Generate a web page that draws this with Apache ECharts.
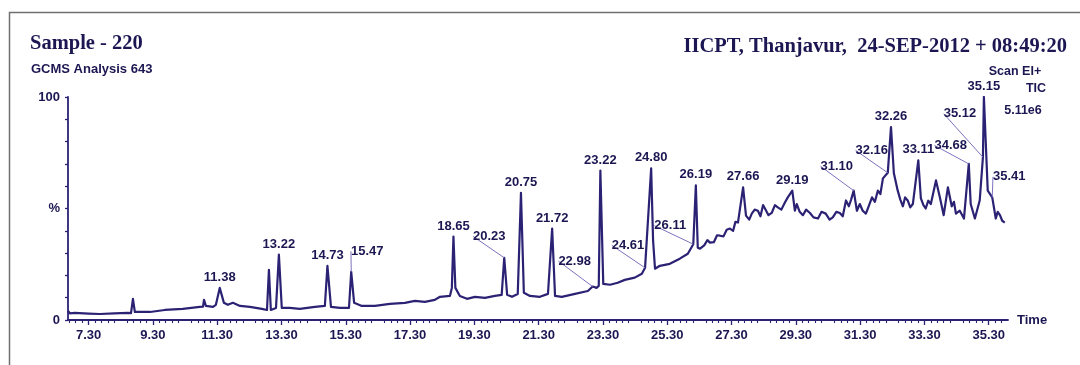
<!DOCTYPE html>
<html>
<head>
<meta charset="utf-8">
<script src="https://cdn.jsdelivr.net/npm/echarts@6/dist/echarts.min.js"></script>
<style>
  html, body { margin: 0; padding: 0; background: #ffffff; }
  #chart { width: 1080px; height: 365px; }
</style>
</head>
<body>
<div id="chart"></div>
<script>
// Total ion chromatogram: retention time (min) and relative intensity (%)
const traceTime = [
  6.66, 6.72, 6.87, 7.30, 7.65, 8.10, 8.52, 8.62, 8.68, 8.74,
  9.21, 9.67, 10.23, 10.76, 10.86, 10.89, 10.95, 11.17, 11.26, 11.38,
  11.51, 11.63, 11.79, 12.01, 12.32, 12.69, 12.85, 12.91, 12.97, 13.13,
  13.22, 13.31, 13.56, 13.87, 14.34, 14.65, 14.73, 14.84, 15.12, 15.40,
  15.47, 15.56, 15.80, 16.21, 16.67, 17.14, 17.45, 17.76, 18.07, 18.23,
  18.54, 18.60, 18.65, 18.71, 18.85, 19.07, 19.32, 19.63, 19.94, 20.15,
  20.23, 20.32, 20.47, 20.65, 20.75, 20.84, 21.03, 21.34, 21.59, 21.72,
  21.81, 22.02, 22.43, 22.83, 22.98, 23.10, 23.17, 23.22, 23.31, 23.52,
  23.76, 23.98, 24.29, 24.51, 24.61, 24.80, 24.86, 24.92, 25.07, 25.38,
  25.69, 25.94, 26.11, 26.19, 26.25, 26.32, 26.45, 26.55, 26.63, 26.75,
  26.85, 26.94, 27.05, 27.15, 27.25, 27.35, 27.42, 27.50, 27.66, 27.75,
  27.85, 27.93, 28.02, 28.12, 28.20, 28.28, 28.34, 28.45, 28.55, 28.65,
  28.74, 28.85, 28.96, 29.05, 29.19, 29.27, 29.33, 29.42, 29.52, 29.62,
  29.74, 29.85, 29.99, 30.10, 30.23, 30.35, 30.45, 30.56, 30.67, 30.76,
  30.86, 30.95, 31.02, 31.10, 31.20, 31.29, 31.38, 31.48, 31.58, 31.67,
  31.76, 31.85, 31.93, 32.01, 32.16, 32.26, 32.35, 32.47, 32.55, 32.63,
  32.70, 32.78, 32.86, 32.94, 33.11, 33.19, 33.27, 33.34, 33.42, 33.50,
  33.66, 33.78, 33.90, 34.03, 34.15, 34.22, 34.28, 34.40, 34.53, 34.68,
  34.74, 34.87, 35.02, 35.12, 35.15, 35.27, 35.41, 35.52, 35.58, 35.65,
  35.72, 35.80
];
const traceIntensity = [
  4.0, 3.0, 3.2, 2.9, 2.7, 3.0, 3.2, 3.1, 9.5, 3.6,
  3.6, 4.5, 5.0, 5.9, 6.0, 9.0, 6.3, 5.9, 6.8, 14.4,
  7.7, 6.8, 7.7, 6.3, 5.9, 5.0, 4.5, 22.5, 4.5, 5.4,
  29.3, 5.4, 5.4, 5.0, 5.9, 6.3, 24.3, 5.9, 5.4, 5.4,
  21.6, 7.7, 6.3, 6.3, 7.2, 7.7, 8.6, 8.1, 9.0, 10.4,
  10.8, 14.4, 37.4, 14.4, 10.8, 9.5, 10.4, 9.9, 10.8, 11.3,
  27.9, 11.3, 10.4, 11.7, 57.0, 12.2, 10.8, 10.4, 11.7, 41.0,
  10.8, 10.4, 11.7, 13.0, 15.0, 14.4, 15.3, 67.0, 16.2, 15.8,
  16.7, 18.0, 19.0, 20.7, 23.4, 68.0, 35.6, 23.0, 24.3, 25.2,
  27.5, 29.7, 34.0, 60.4, 32.4, 32.0, 33.5, 35.8, 34.7, 34.9,
  38.0, 37.8, 37.5, 40.5, 41.0, 40.0, 44.0, 43.7, 59.5, 46.8,
  45.0, 47.7, 49.5, 49.0, 46.5, 51.5, 50.0, 47.0, 48.0, 51.5,
  50.5, 49.5, 52.7, 55.0, 58.0, 49.0, 52.0, 48.5, 47.0, 49.5,
  48.0, 46.0, 45.5, 48.5, 47.7, 45.0, 46.0, 48.5, 48.0, 46.5,
  53.6, 51.0, 54.0, 58.0, 49.0, 52.0, 49.0, 47.7, 51.5, 55.0,
  53.0, 58.0, 56.5, 63.5, 66.0, 86.5, 65.8, 58.0, 54.0, 51.0,
  55.0, 53.6, 50.5, 52.0, 71.6, 54.5, 51.5, 50.0, 53.5, 52.0,
  62.6, 55.0, 47.0, 59.5, 51.0, 53.0, 47.7, 49.0, 45.5, 70.0,
  52.0, 45.5, 53.6, 73.0, 100.0, 58.0, 55.0, 45.5, 48.5, 47.0,
  44.5, 43.7
];

// Retention times printed above the annotated peaks
const peakLabels = [
  '11.38', '13.22', '14.73', '15.47', '18.65', '20.23', '20.75', '21.72',
  '22.98', '23.22', '24.61', '24.80', '26.11', '26.19', '27.66', '29.19',
  '31.10', '32.16', '32.26', '33.11', '34.68', '35.12', '35.15', '35.41'
];

// Axis tick labels
const xTickLabels = [
  '7.30', '9.30', '11.30', '13.30', '15.30', '17.30', '19.30',
  '21.30', '23.30', '25.30', '27.30', '29.30', '31.30', '33.30', '35.30'
];
const yTickValues = [0, 50, 100];
const yTickText = ['0', '%', '100'];

// Labels that sit beside their peak with a short guide line (pixel shift)
const labelShift = {
  '15.47': [16, -10], '20.23': [-15, -11], '22.98': [-18, -15],
  '24.61': [-17, -12], '26.11': [-23, -8], '31.10': [-17, -14],
  '32.16': [-16, -12], '34.68': [-18, -8], '35.12': [-23, -33],
  '35.41': [17, -10]
};

const INK = '#1c1752';
const TRACE = '#2b2274';
const GUIDE = '#7d72bf';
const SANS = '"Liberation Sans", Arial, sans-serif';
const SERIF = '"Liberation Serif", "Times New Roman", serif';

const tracePoints = traceTime.map((t, i) => [t, traceIntensity[i]]);
const peakPoints = peakLabels.map(s => {
  const t = parseFloat(s);
  const item = { value: [t, traceIntensity[traceTime.indexOf(t)]] };
  if (labelShift[s]) item.labelLine = { show: true, lineStyle: { color: GUIDE, width: 1 } };
  return item;
});

const majorTicks = xTickLabels.map(parseFloat);
const minorTicks = [];
majorTicks.forEach(m => {
  for (let k = -4; k <= 4; k++) {
    if (k === 0) continue;
    const v = Math.round((m + k * 0.2) * 100) / 100;
    if (v > 6.66 && v < 35.9 && minorTicks.indexOf(v) < 0) minorTicks.push(v);
  }
});
minorTicks.sort((a, b) => a - b);

const chart = echarts.init(document.getElementById('chart'), null, { renderer: 'canvas' });

chart.setOption({
  animation: false,
  backgroundColor: '#ffffff',
  grid: { left: 68, right: 72, top: 97, bottom: 45 },
  xAxis: [
    {
      type: 'value',
      min: 6.66,
      max: 35.9,
      name: 'Time',
      nameLocation: 'end',
      nameGap: 9,
      nameTextStyle: { color: INK, fontFamily: SANS, fontSize: 13, fontWeight: 'bold', verticalAlign: 'middle' },
      axisLine: { show: true, lineStyle: { color: TRACE, width: 1.8 } },
      axisTick: { show: true, customValues: majorTicks, length: 5, lineStyle: { color: TRACE, width: 1.3 } },
      axisLabel: {
        customValues: majorTicks,
        formatter: v => v.toFixed(2),
        color: INK, fontFamily: SANS, fontSize: 13, fontWeight: 'bold', margin: 9
      },
      splitLine: { show: false }
    },
    {
      type: 'value',
      min: 6.66,
      max: 35.9,
      position: 'bottom',
      axisLine: { show: false },
      axisTick: { show: true, customValues: minorTicks, length: 3, lineStyle: { color: TRACE, width: 1.1 } },
      axisLabel: { show: false },
      splitLine: { show: false }
    }
  ],
  yAxis: {
    type: 'value',
    min: 0,
    max: 100,
    interval: 10,
    axisLine: { show: true, lineStyle: { color: TRACE, width: 1.8 } },
    axisTick: { show: true, length: 3, lineStyle: { color: TRACE, width: 1.3 } },
    axisLabel: {
      customValues: yTickValues,
      formatter: v => yTickText[yTickValues.indexOf(v)],
      color: INK, fontFamily: SANS, fontSize: 13, fontWeight: 'bold', margin: 8
    },
    splitLine: { show: false }
  },
  series: [
    {
      name: 'TIC',
      type: 'line',
      xAxisIndex: 0,
      data: tracePoints,
      showSymbol: false,
      symbol: 'none',
      lineStyle: { color: TRACE, width: 2.2, join: 'round' },
      z: 2
    },
    {
      name: 'peaks',
      type: 'scatter',
      xAxisIndex: 0,
      data: peakPoints,
      symbolSize: 0,
      silent: true,
      itemStyle: { opacity: 1 },
      label: {
        show: true,
        position: 'top',
        distance: 4,
        formatter: p => peakLabels[p.dataIndex],
        color: INK,
        opacity: 1,
        fontFamily: SANS,
        fontSize: 13,
        fontWeight: 'bold'
      },
      labelLayout: p => {
        const s = labelShift[peakLabels[p.dataIndex]];
        return s ? { dx: s[0], dy: s[1] } : { dx: 0, dy: 0 };
      },
      labelLine: { show: false },
      z: 3
    }
  ],
  graphic: [
    {
      type: 'rect',
      shape: { x: 9.5, y: 12.5, width: 1100, height: 400 },
      style: { fill: 'none', stroke: '#707070', lineWidth: 1.5 },
      silent: true
    },
    {
      type: 'text', x: 30, y: 44,
      style: { text: 'Sample - 220', font: 'bold 20.5px ' + SERIF, fill: INK, textVerticalAlign: 'middle' }
    },
    {
      type: 'text', x: 31, y: 69,
      style: { text: 'GCMS Analysis 643', font: 'bold 13px ' + SANS, fill: INK, textVerticalAlign: 'middle' }
    },
    {
      type: 'text', x: 1067, y: 47,
      style: { text: 'IICPT, Thanjavur,  24-SEP-2012 + 08:49:20', font: 'bold 20.5px ' + SERIF, fill: INK, textAlign: 'right', textVerticalAlign: 'middle' }
    },
    {
      type: 'text', x: 1015, y: 72,
      style: { text: 'Scan EI+', font: 'bold 12.5px ' + SANS, fill: INK, textAlign: 'center', textVerticalAlign: 'middle' }
    },
    {
      type: 'text', x: 1036, y: 89,
      style: { text: 'TIC', font: 'bold 12.5px ' + SANS, fill: INK, textAlign: 'center', textVerticalAlign: 'middle' }
    },
    {
      type: 'text', x: 1023, y: 111,
      style: { text: '5.11e6', font: 'bold 12.5px ' + SANS, fill: INK, textAlign: 'center', textVerticalAlign: 'middle' }
    }
  ]
});
</script>
</body>
</html>
